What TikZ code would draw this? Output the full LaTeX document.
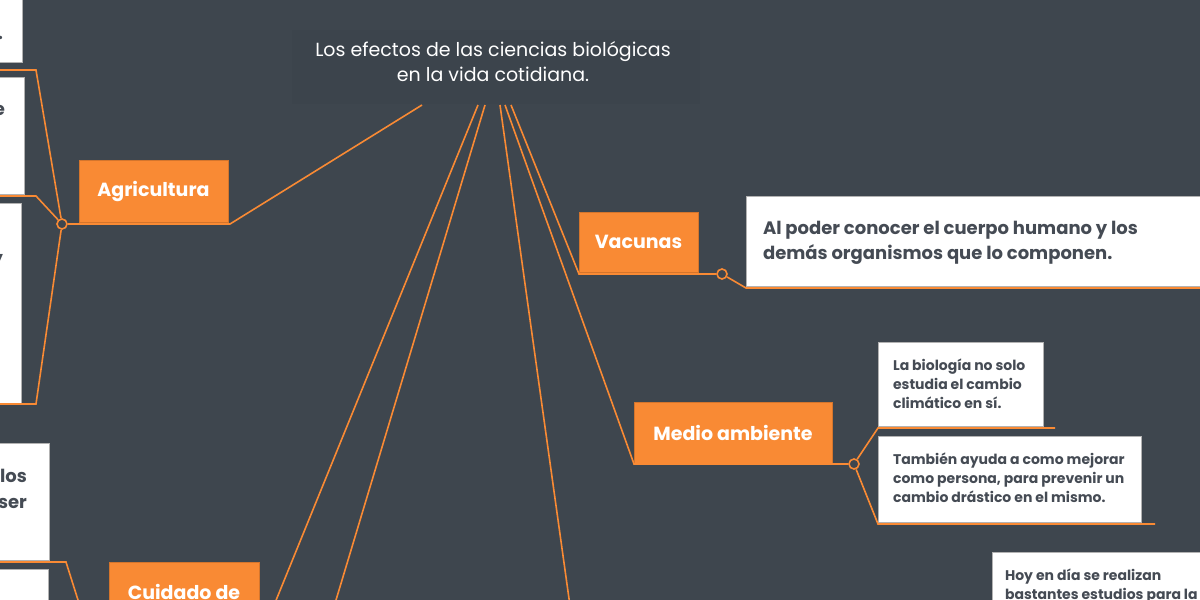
\documentclass[tikz,border=0pt]{standalone}
\usepackage{fontspec}
\setmainfont{Poppins}
\definecolor{bgc}{HTML}{3E464E}
\definecolor{orng}{HTML}{F98A34}
\definecolor{txtc}{HTML}{454B54}
\tikzset{
  topic/.style={fill=orng,draw=orng!85!black,line width=0.4pt},
  leaf/.style={fill=white,draw=gray!60,line width=0.4pt},
  link/.style={draw=orng,line width=0.8pt},
  knob/.style={circle,draw=orng,fill=bgc,line width=0.8pt,inner sep=0pt,minimum size=5pt},
  ttext/.style={text=white,font=\bfseries\fontsize{9.5}{11}\selectfont},
  ltext/.style={text=txtc,font=\bfseries\fontsize{7}{9.5}\selectfont,align=left,anchor=north west},
}
\begin{document}
\begin{tikzpicture}[x=0.5pt,y=-0.5pt]
\fill[bgc] (0,0) rectangle (1200,600);
\useasboundingbox (0,0) rectangle (1200,600);
% root
\fill[black!3!bgc] (292,30) rectangle (700,104);
\node[text=white,font=\fontsize{9.5}{12.5}\selectfont,align=center] (root) at (493,62)
  {Los efectos de las ciencias biológicas\\en la vida cotidiana.};
\coordinate (r1) at (422,105);
\coordinate (r2) at (478,105);
\coordinate (r3) at (485,105);
\coordinate (r4) at (500,105);
\coordinate (r5) at (505,105);
\coordinate (r6) at (511,105);
% topics
\fill[topic] (79,160) rectangle (228,222);
\node[ttext] (agri) at (153.5,191) {Agricultura};
\fill[topic] (579,212) rectangle (698,272);
\node[ttext] (vac) at (638.5,242) {Vacunas};
\fill[topic] (634,402) rectangle (832,463);
\node[ttext] (medio) at (733,433) {Medio ambiente};
\fill[topic] (109,562) rectangle (259,620);
\node[ttext] (cuid) at (184,592) {Cuidado de};
% leaves right
\fill[leaf] (746,196) rectangle (1210,286);
\node[ltext,font=\bfseries\fontsize{9}{12.5}\selectfont] (vacA) at (756,214)
  {Al poder conocer el cuerpo humano y los\\demás organismos que lo componen.};
\fill[leaf] (878,342) rectangle (1043,426);
\node[ltext] (medA) at (886,352) {La biología no solo\\estudia el cambio\\climático en sí.};
\fill[leaf] (878,436) rectangle (1141,522);
\node[ltext] (medB) at (886,446) {También ayuda a como mejorar\\como persona, para prevenir un\\cambio drástico en el mismo.};
\fill[leaf] (992,552) rectangle (1210,620);
\node[ltext] (hoy) at (998,562) {Hoy en día se realizan\\bastantes estudios para la};
% leaves left
\fill[leaf] (-10,-10) rectangle (22,62);
\fill[leaf] (-10,77) rectangle (24,194);
\fill[leaf] (-10,203) rectangle (21,403);
\fill[leaf] (-10,443) rectangle (49,560);
\fill[leaf] (-10,569) rectangle (48,620);
\node[ltext,font=\bfseries\fontsize{9}{13}\selectfont,anchor=east] (l1) at (10,38) {.};
\node[ltext,font=\bfseries\fontsize{9}{13}\selectfont,anchor=east] (l2) at (12,110) {e};
\node[ltext,font=\bfseries\fontsize{9}{13}\selectfont,anchor=east] (l3) at (10,262) {y};
\node[ltext,font=\bfseries\fontsize{9}{13}\selectfont,anchor=north east,align=right] (l4) at (34,462) {los\\ser};
% connectors
\node[knob] (ka) at (62,224) {};
\node[knob] (kv) at (722,274) {};
\node[knob] (km) at (854,464) {};
\draw[link] (r1) -- (230,224) -- (ka);
\draw[link] (ka) -- (36,70) -- (0,70);
\draw[link] (ka) -- (36,196) -- (0,196);
\draw[link] (ka) -- (36,404) -- (0,404);
\draw[link] (r6) -- (579,274) -- (kv);
\draw[link] (kv) -- (746,288) -- (1200,288);
\draw[link] (r5) -- (634,464) -- (km);
\draw[link] (km) -- (878,428) -- (1055,428);
\draw[link] (km) -- (878,524) -- (1155,524);
\draw[link] (r2) -- (268,620);
\draw[link] (r3) -- (330,620);
\draw[link] (r4) -- (572,620);
\draw[link] (0,562) -- (66,562) -- (78,600);
\end{tikzpicture}
\end{document}
